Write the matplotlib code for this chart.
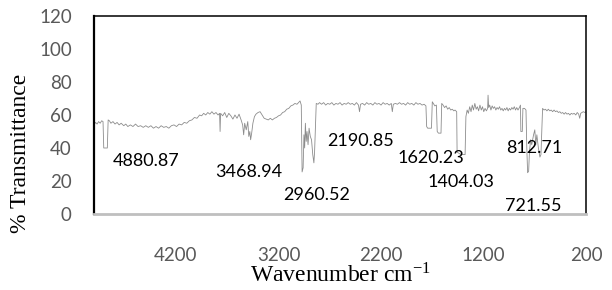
import matplotlib
matplotlib.use('Agg')
import matplotlib.pyplot as plt

# FTIR spectrum (wavenumber in cm-1, % transmittance)
wavenumber = [
    5000, 4985, 4970, 4955, 4940, 4925, 4912, 4905, 4870, 4862,
    4850, 4835, 4815, 4795, 4775, 4755, 4735, 4710, 4690, 4670,
    4645, 4620, 4595, 4570, 4545, 4520, 4495, 4470, 4445, 4420,
    4395, 4370, 4345, 4320, 4295, 4270, 4245, 4220, 4195, 4170,
    4145, 4120, 4095, 4070, 4045, 4020, 3995, 3970, 3950, 3930,
    3910, 3890, 3870, 3850, 3830, 3810, 3790, 3775, 3770, 3765,
    3745, 3725, 3705, 3685, 3665, 3645, 3625, 3605, 3585, 3565,
    3550, 3540, 3530, 3515, 3500, 3490, 3480, 3472, 3462, 3450,
    3435, 3420, 3400, 3380, 3360, 3340, 3320, 3300, 3280, 3260,
    3240, 3220, 3200, 3180, 3160, 3140, 3120, 3100, 3080, 3060,
    3040, 3020, 3005, 2990, 2978, 2970, 2960, 2952, 2945, 2938,
    2930, 2922, 2912, 2902, 2890, 2878, 2866, 2855, 2848, 2832,
    2815, 2800, 2780, 2760, 2740, 2720, 2700, 2680, 2660, 2640,
    2620, 2600, 2580, 2560, 2540, 2520, 2500, 2480, 2460, 2440,
    2420, 2410, 2400, 2380, 2360, 2340, 2320, 2300, 2280, 2260,
    2240, 2220, 2200, 2180, 2160, 2140, 2120, 2100, 2090, 2080,
    2060, 2040, 2020, 2000, 1980, 1960, 1940, 1920, 1900, 1880,
    1860, 1840, 1820, 1800, 1780, 1762, 1755, 1745, 1708, 1700,
    1690, 1675, 1660, 1652, 1640, 1615, 1608, 1595, 1580, 1565,
    1550, 1535, 1520, 1505, 1490, 1478, 1462, 1458, 1420, 1380,
    1372, 1360, 1348, 1335, 1322, 1310, 1298, 1285, 1272, 1260,
    1248, 1235, 1222, 1210, 1198, 1185, 1172, 1160, 1156, 1150,
    1140, 1128, 1116, 1104, 1092, 1080, 1068, 1056, 1044, 1032,
    1020, 1008, 996, 984, 972, 960, 948, 936, 924, 912,
    900, 888, 876, 864, 850, 840, 836, 822, 816, 800,
    786, 778, 770, 760, 752, 740, 730, 712, 700, 690,
    680, 665, 650, 640, 624, 610, 596, 582, 568, 554,
    540, 526, 512, 498, 484, 470, 456, 442, 428, 414,
    400, 386, 372, 358, 344, 330, 316, 300, 286, 272,
    262, 252, 240, 226, 212, 200,
]
transmittance = [
    54, 55.5, 54.5, 56, 55, 56.5, 56, 40, 40, 57,
    56.5, 55, 56, 54.5, 55.5, 54, 55, 53.5, 54.5, 53,
    54, 53, 54.5, 53, 53.5, 52.5, 53.5, 52.5, 53.5, 52,
    53, 52, 53.5, 52.5, 53, 52, 53.5, 54, 53, 54.5,
    54, 55.5, 55, 56.5, 57, 58.5, 58, 60, 59.5, 61,
    60, 61.5, 60.5, 62, 60.5, 61.5, 60, 61, 50, 61,
    59.5, 61.5, 58.5, 61, 59.5, 57.5, 60, 58, 60.5, 57,
    54, 48, 55, 51, 56, 47, 50, 45, 49, 55,
    59, 60.5, 61.5, 62, 60, 58, 57.5, 57, 58, 57,
    58, 58.5, 59.5, 60, 61.5, 62, 63.5, 64, 65.5, 66,
    67, 66.5, 67.5, 68.5, 66, 25.5, 28, 48, 40, 55,
    44, 50, 42, 52, 47, 45, 36, 31, 38, 67,
    66.5, 67.5, 66.5, 67.5, 66, 67, 66.5, 67.5, 66, 67,
    66.5, 67.5, 66, 67, 66.5, 67.5, 66.5, 67, 66, 67.5,
    66, 62, 66.5, 67, 66, 67.5, 66.5, 67, 66, 67.5,
    66.5, 67, 66, 67.5, 66.5, 67, 66, 67, 62, 66.5,
    67, 66.5, 67.5, 66.5, 67, 66, 67.5, 66.5, 67, 66,
    67.5, 66.5, 67, 66, 66.5, 65.5, 53, 52, 52, 68,
    67, 65.5, 66, 50, 49, 49, 67, 66, 64.5, 65.5,
    63.5, 64.5, 63, 63.5, 62.5, 63, 62, 37.5, 36, 36,
    59, 63, 61, 65, 62, 66, 63, 67, 63.5, 65,
    62.5, 66, 63, 65, 62, 64, 62.5, 64, 72, 64.5,
    66, 63, 65.5, 64, 65, 63, 64.5, 63.5, 65, 63,
    64, 62.5, 64, 63, 64.5, 62.5, 64, 63, 64.5, 63.5,
    65, 63, 64.5, 63, 64.5, 66, 50, 50, 64, 64,
    63, 40, 25, 26, 38, 45, 42, 48, 51, 42,
    48, 40, 34.5, 36, 64, 63, 63.5, 62.5, 63.5, 62.5,
    63, 62, 63, 62, 62.5, 61.5, 62, 61, 61.5, 60.5,
    61.5, 60.5, 61, 60, 61, 60.5, 61, 60, 61.5, 60.5,
    58, 61, 61.5, 62, 61.5, 62,
]

# peak labels and where they sit on the chart
peak_labels = ['4880.87', '3468.94', '2960.52', '2190.85',
               '1620.23', '1404.03', '812.71', '721.55']
label_x = [4493, 3488, 2824, 2395, 1712, 1420, 707, 717]
label_y = [32, 25.5, 11.5, 44, 34, 19.4, 40, 5]

x_ticks = [4200, 3200, 2200, 1200, 200]
y_ticks = [0, 20, 40, 60, 80, 100, 120]

fig = plt.figure(figsize=(6.12, 2.9), dpi=100)
ax = fig.add_axes([0.1536, 0.262, 0.804, 0.683])

ax.plot(wavenumber, transmittance, color='#8c8c8c', linewidth=0.6)

for lab, lx, ly in zip(peak_labels, label_x, label_y):
    ax.text(lx, ly, lab, ha='center', va='center', fontsize=13,
            family='Lato', color='black')

ax.set_xlim(5000, 200)
ax.set_ylim(0, 120)
ax.set_xticks(x_ticks)
ax.set_yticks(y_ticks)
ax.tick_params(length=0, colors='#595959', labelsize=13.5)
ax.tick_params(axis='x', pad=24)
ax.tick_params(axis='y', pad=16)
for lbl in ax.get_xticklabels() + ax.get_yticklabels():
    lbl.set_family('Lato')

for side in ['left', 'top', 'right']:
    ax.spines[side].set_color('black')
    ax.spines[side].set_linewidth(1.1)
ax.spines['left'].set_linewidth(1.6)
ax.spines['bottom'].set_color('#bfbfbf')
ax.spines['bottom'].set_linewidth(2)

plt.rcParams['mathtext.fontset'] = 'stix'
fig.text(0.556, 0.052, r'Wavenumber cm$^{\mathregular{-1}}$', ha='center',
         va='center', family='Liberation Serif', fontsize=17)
fig.text(0.034, 0.47, '% Transmittance', rotation=90, ha='center',
         va='center', family='Liberation Serif', fontsize=17)

fig.savefig('out.png', dpi=100)
